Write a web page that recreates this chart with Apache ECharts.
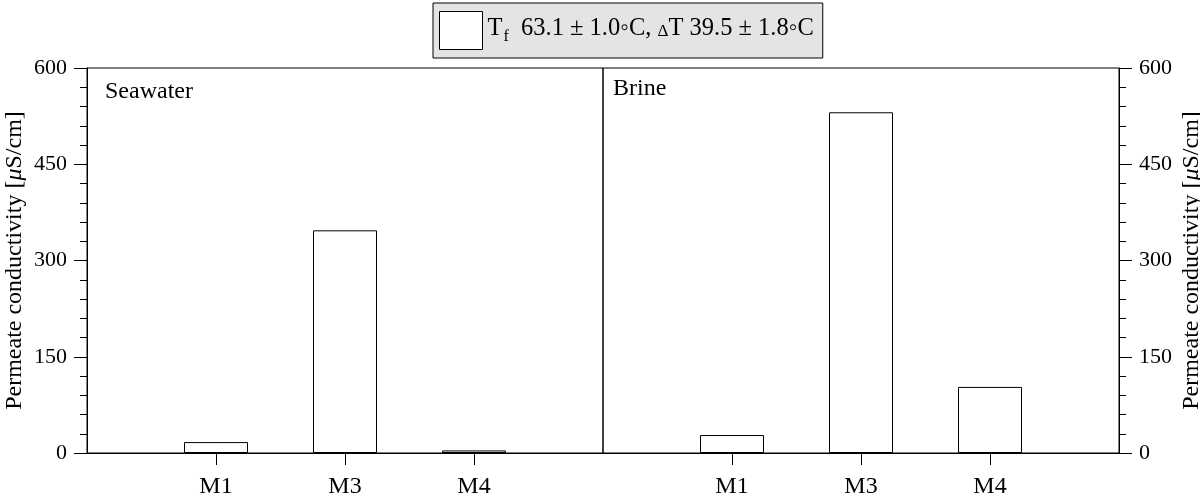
<!DOCTYPE html>
<html>
<head>
<meta charset="utf-8">
<script src="https://cdn.jsdelivr.net/npm/echarts@6/dist/echarts.min.js"></script>
<style>
  html, body { margin: 0; padding: 0; background: #fff; }
  #chart { width: 1200px; height: 496px; }
</style>
</head>
<body>
<div id="chart"></div>
<script>
// Membrane categories and permeate conductivity (µS/cm) for each feed
const categories = ['M1', 'M3', 'M4'];
const seawater = [17, 347, 4];
const brine = [28, 531, 103];
const panelNames = ['Seawater', 'Brine'];
const yTicks = [0, 150, 300, 450, 600];
const seriesName = 'Tf 63.1 ± 1.0°C, ΔT 39.5 ± 1.8°C';

const FONT = '"Liberation Serif", "Times New Roman", serif';
const positions = categories.map((_, i) => i + 1);

function xAxis(gridIndex) {
  return {
    type: 'value', gridIndex, min: 0, max: categories.length + 1, interval: 1,
    axisLine: { show: true, onZero: false, lineStyle: { color: '#000', width: 1 } },
    axisTick: { show: true, customValues: positions, length: 12, lineStyle: { color: '#000' } },
    axisLabel: {
      customValues: positions, margin: 22, fontSize: 24, fontFamily: FONT, color: '#000',
      formatter: v => categories[Math.round(v) - 1] || ''
    },
    splitLine: { show: false }
  };
}

function yAxis(gridIndex, position) {
  return {
    type: 'value', gridIndex, position, min: yTicks[0], max: yTicks[yTicks.length - 1],
    interval: yTicks[1] - yTicks[0],
    name: 'Permeate conductivity [{i|μ}S/cm]',
    nameLocation: 'middle', nameGap: position === 'left' ? 60 : 61,
    nameTextStyle: {
      fontSize: 24, fontFamily: FONT, color: '#000',
      rich: { i: { fontSize: 24, fontFamily: FONT, fontStyle: 'italic', color: '#000' } }
    },
    axisLine: { show: true, onZero: false, lineStyle: { color: '#000', width: 1 } },
    axisTick: { show: true, length: 13, lineStyle: { color: '#000' } },
    minorTick: { show: true, splitNumber: 5, length: 7, lineStyle: { color: '#000' } },
    axisLabel: { margin: 20, fontSize: 22, fontFamily: FONT, color: '#000',
                 formatter: v => String(v) },
    splitLine: { show: false }
  };
}

function barSeries(values, idx) {
  return {
    name: seriesName, type: 'bar', xAxisIndex: idx, yAxisIndex: idx,
    data: values.map((v, i) => [positions[i], v]),
    barWidth: 64,
    itemStyle: { color: '#fff', borderColor: '#000', borderWidth: 1 },
    emphasis: { disabled: true },
    animation: false
  };
}

const gridBase = { top: 68, width: 516, height: 385, show: true, borderColor: '#000', borderWidth: 1,
                   backgroundColor: 'transparent', containLabel: false, outerBoundsMode: 'none' };

const chart = echarts.init(document.getElementById('chart'), null, { renderer: 'canvas' });
chart.setOption({
  animation: false,
  textStyle: { fontFamily: FONT },
  grid: [
    Object.assign({ left: 87 }, gridBase),
    Object.assign({ left: 603 }, gridBase)
  ],
  xAxis: [xAxis(0), xAxis(1)],
  yAxis: [yAxis(0, 'left'), yAxis(1, 'right')],
  legend: {
    left: 433, top: 3,
    padding: [8, 9, 8, 6],
    itemWidth: 43, itemHeight: 38,
    backgroundColor: '#e4e4e4', borderColor: '#000', borderWidth: 1, borderRadius: 0,
    selectedMode: false,
    data: [{ name: seriesName, icon: 'rect' }],
    itemStyle: { color: '#fff', borderColor: '#000', borderWidth: 1 },
    formatter: () => '{t|T}{s|f}{t|  63.1 ± 1.0◦C, }{d|Δ}{t|T 39.5 ± 1.8◦C}',
    textStyle: {
      color: '#000', fontFamily: FONT, fontSize: 24.5,
      rich: {
        t: { fontSize: 24.5, fontFamily: FONT, color: '#000', verticalAlign: 'top', padding: [0, 0, 0, 0] },
        s: { fontSize: 16, fontFamily: FONT, color: '#000', verticalAlign: 'top', padding: [12, 0, 0, 1] },
        d: { fontSize: 17, fontFamily: FONT, color: '#000', verticalAlign: 'top', padding: [7, 0, 0, 0] }
      }
    }
  },
  graphic: [
    { type: 'text', left: 105, top: 80, style: { text: panelNames[0], fontSize: 24, fontFamily: FONT, fill: '#000' } },
    { type: 'text', left: 613, top: 77, style: { text: panelNames[1], fontSize: 24, fontFamily: FONT, fill: '#000' } }
  ],
  series: [barSeries(seawater, 0), barSeries(brine, 1)]
});
</script>
</body>
</html>
